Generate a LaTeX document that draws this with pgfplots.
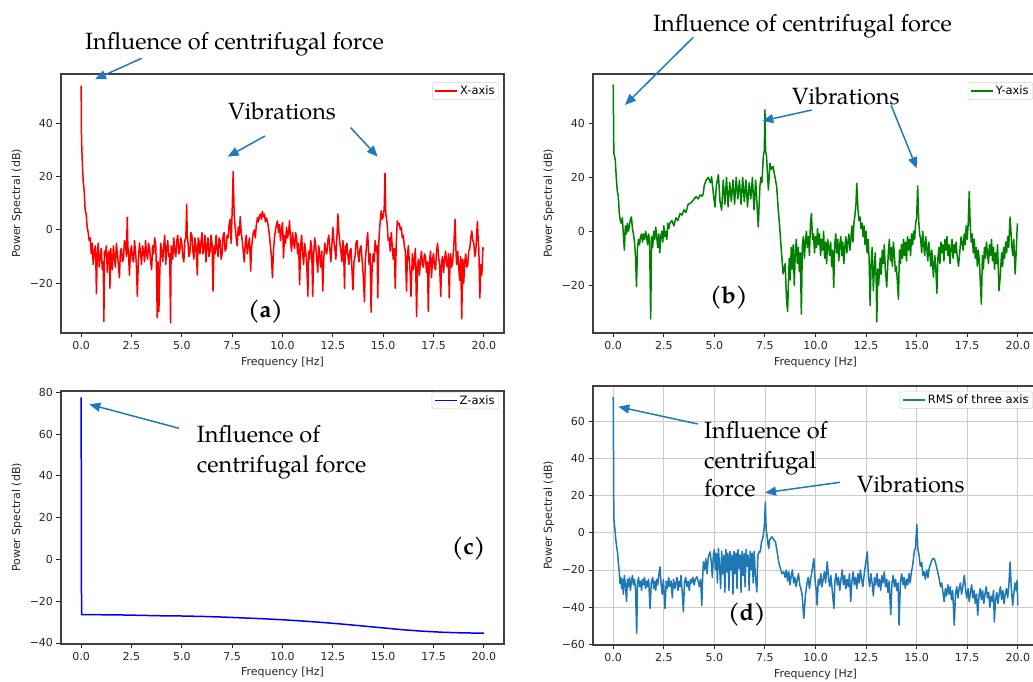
\documentclass[border=0pt]{standalone}
\usepackage{fontspec}
\setmainfont{DejaVu Sans}
\newfontfamily\pal{TeX Gyre Pagella}
\usepackage{pgfplots}
\pgfplotsset{compat=1.18}
\usepackage{pgfplotstable}
\usetikzlibrary{arrows.meta}

\definecolor{mplblue}{RGB}{31,119,180}
\definecolor{mplgreen}{RGB}{0,128,0}
\definecolor{arrowblue}{RGB}{30,122,190}

% ---- X-axis spectrum (a)
\pgfplotstableread{
x y
0.0 54.3
0.02 34
0.05 27
0.1 18.5
0.15 15
0.2 7.5
0.25 6
0.3 1
0.35 -1
0.4 -4
0.45 -3
0.5 -9
0.55 -5
0.6 -13
0.65 -8
0.7 -6
0.73 -12
0.76 -24
0.8 -9
0.85 -5
0.9 -14
0.95 -10
1.0 -7
1.05 -15
1.1 -12
1.13 -34.5
1.16 -8
1.2 -10
1.25 -6
1.3 -16
1.35 -9
1.4 -8
1.43 -22
1.47 -7
1.5 -11
1.55 -15
1.6 -6
1.65 -10
1.7 -14
1.75 -5
1.8 -9
1.85 -13
1.9 -18
1.95 -8
2.0 -7
2.05 -12
2.1 -11
2.15 -4
2.2 -5
2.25 -10
2.29 4.7
2.32 -6
2.35 -9
2.4 -17
2.45 -8
2.5 -6
2.55 -11
2.6 -12
2.65 -4
2.7 -8
2.75 -14
2.79 -25
2.85 -10
2.9 -5
2.95 -9
3.0 -13
3.05 -6
3.1 -8
3.15 -12
3.2 -4
3.25 -9
3.3 -11
3.35 -5
3.4 -7
3.45 -12
3.5 -15
3.55 -6
3.6 -9
3.65 -3
3.7 -5
3.74 -14
3.78 -33
3.82 -12
3.86 -30.7
3.9 -18
3.95 -5
4.0 -8
4.05 -12
4.1 -6
4.15 -2
4.2 -13
4.25 -7
4.3 -4
4.35 -10
4.4 -9
4.44 -35
4.47 -6
4.5 -7
4.55 -11
4.6 -3
4.65 -8
4.7 -10
4.75 -4
4.8 -2
4.85 -9
4.9 -8
4.95 -3
5.0 -5
5.05 -10
5.1 -12
5.15 -4
5.2 -3
5.24 9.7
5.27 -2
5.3 -4
5.35 -10
5.4 -9
5.45 -1
5.5 -2
5.55 -8
5.6 -11
5.65 -3
5.7 -6
5.73 -10
5.77 -17
5.81 -3
5.85 -4
5.9 -9
5.95 -5
6.0 -1
6.05 -9
6.1 -7
6.15 -2
6.2 -12
6.25 -6
6.3 -3
6.35 -10
6.4 -8
6.45 -2
6.5 -5
6.55 -23
6.6 -6
6.65 -9
6.7 -2
6.75 -7
6.8 -10
6.85 -3
6.9 -4
6.95 -11
7.0 -9
7.05 -2
7.1 -1
7.15 -8
7.2 -7
7.25 -2
7.3 -3
7.35 2
7.4 4
7.45 -5
7.5 7
7.55 22
7.6 6
7.65 1
7.7 -3
7.75 -6
7.8 1
7.85 -2
7.9 5
7.95 -1
8.0 -4
8.05 -8
8.1 -12
8.15 -5
8.2 -2
8.25 -9
8.3 -6
8.36 -3
8.42 -15.5
8.46 -7
8.5 -4
8.55 -1
8.6 0
8.65 -3
8.7 2
8.76 4.7
8.8 3
8.85 5
8.9 6
8.95 4
9.0 7
9.05 5
9.1 6
9.15 3
9.2 4.5
9.25 3.4
9.3 1
9.35 -2
9.4 -6
9.45 -10
9.5 -18
9.55 -8
9.6 -3
9.65 0
9.7 2
9.75 3.4
9.8 -1
9.85 2
9.9 -4
9.95 0
10.0 2.8
10.05 -10.5
10.1 -2
10.15 -5
10.2 1
10.25 -3
10.3 -1
10.35 3.4
10.4 -4
10.45 -8
10.5 -1
10.55 -5
10.6 -7
10.65 -1
10.7 -3
10.75 -9
10.8 -5
10.85 -20.6
10.9 -6
10.95 -2
11.0 -9
11.05 -13
11.1 -5
11.15 -8
11.2 -12
11.26 -25
11.3 -8
11.35 -11
11.4 -4
11.45 -7
11.5 -25
11.55 -9
11.6 -3
11.65 -6
11.7 -11
11.75 -16
11.8 -6
11.85 -10
11.9 -14
11.95 -8
12.0 -23
12.05 -11
12.1 -5
12.15 -8
12.2 -9
12.25 -4
12.3 -2
12.35 -7
12.4 -12
12.45 -6
12.5 1
12.55 -4
12.6 -7
12.65 -11
12.7 -3
12.75 6
12.8 -1
12.85 -5
12.9 -8
12.95 -12
13.0 -4
13.04 -9
13.08 -22
13.12 -6
13.15 -9
13.2 -5
13.25 -10
13.3 -13
13.35 -8
13.4 -7
13.45 -15
13.5 -22.5
13.55 -12
13.6 -10
13.65 -5
13.7 -4
13.75 -9
13.8 -12
13.85 -7
13.9 -6
13.95 -11
14.0 -16
14.07 -27
14.11 -12
14.15 -8
14.19 -4
14.23 -1
14.27 -8
14.3 -13
14.35 -9
14.4 -31
14.45 -14
14.5 -9
14.55 -12
14.6 -4
14.65 -8
14.7 -6
14.73 -25.6
14.77 -8
14.8 -2
14.85 3
14.9 7.2
14.95 4
15.0 5
15.05 8
15.09 21.3
15.13 6
15.17 4
15.2 2
15.25 -4
15.3 -3
15.35 -8
15.4 -1
15.45 -6
15.5 -11
15.55 -7
15.6 -22
15.65 -5
15.7 3.4
15.75 2
15.8 2.5
15.85 0
15.9 1
15.95 -3
16.0 -2
16.05 -6
16.1 -8
16.16 -23
16.2 -10
16.25 -6
16.3 -12
16.34 -16
16.38 -25
16.45 -9
16.5 -15
16.55 -11
16.6 -7
16.66 -32.6
16.7 -14
16.75 -11
16.8 -17
16.85 -12
16.9 -8
16.95 -13
17.0 -14
17.05 -9
17.1 -10
17.15 -16
17.2 -12
17.24 -30.7
17.28 -15
17.3 -12
17.35 -8
17.4 -18
17.45 -11
17.5 -9
17.55 -14
17.6 -15
17.65 -8
17.7 -5
17.75 -10
17.8 -13
17.86 -25
17.9 -12
17.95 -10
18.0 -16
18.05 -11
18.1 -8
18.15 -13
18.2 -14
18.24 -9
18.28 -25.6
18.32 -12
18.35 -9
18.4 -14
18.45 -12
18.5 -7
18.57 4
18.62 -9
18.65 -13
18.7 -8
18.75 -14
18.8 -19
18.85 -10
18.9 -33.5
18.95 -11
19.0 -20
19.05 -12
19.1 -9
19.15 -14
19.2 -13
19.25 -8
19.3 -7
19.35 -3
19.4 -0.4
19.45 -4
19.5 -5
19.55 -10
19.6 -8
19.64 -2
19.68 3.2
19.72 -4
19.75 -7
19.8 -25.6
19.85 -13
19.9 -17
19.95 -6.7
20.0 -7.3
}\xdata

% ---- Y-axis spectrum (b)
\pgfplotstableread{
x y
0.0 54.4
0.03 29
0.1 26.5
0.15 20
0.2 15
0.25 13
0.3 6.6
0.35 4
0.4 2.9
0.45 5
0.5 -1
0.55 -7
0.6 2
0.65 -1
0.7 3
0.75 0
0.8 2
0.85 4.5
0.9 5.3
0.95 1
1.0 -1
1.05 -4
1.1 -9
1.15 -20.5
1.2 -6
1.25 -3
1.3 -5
1.35 -2
1.4 -1
1.45 -4
1.5 -1
1.55 -3
1.6 0
1.65 -2
1.7 -5
1.75 -1
1.8 -4
1.85 -32.5
1.9 -2
1.95 -6
2.0 0
2.05 -3
2.1 1.5
2.15 -2
2.2 -6
2.25 -1
2.3 -8
2.35 -2
2.4 0
2.45 -4
2.5 2
2.55 -2
2.6 0
2.65 -3
2.7 3
2.75 1
2.8 3
2.9 4
3.0 2
3.1 5
3.2 4
3.3 6.6
3.4 6
3.5 8
3.6 7
3.7 10
3.8 10.3
3.9 11
4.0 12
4.1 12.8
4.2 12
4.3 13.5
4.4 13
4.45 14
4.5 17
4.6 19
4.7 20
4.8 18
4.86 20.2
4.95 14
5.03 9
5.1 17
5.2 21
5.28 11
5.36 7.8
5.44 19
5.52 10
5.6 20
5.68 9
5.76 18
5.84 11
5.92 19
6.0 10
6.08 20
6.16 12
6.24 19
6.32 10
6.4 20
6.48 11
6.56 19
6.64 9
6.72 18
6.8 12
6.88 20
6.96 8
7.04 19
7.1 11
7.17 1.6
7.25 16.5
7.3 20
7.35 18
7.42 27.7
7.47 30
7.5 45
7.53 30
7.58 27.7
7.62 22
7.67 15.3
7.75 25.2
7.82 23
7.9 24
8.0 20
8.08 16.5
8.16 8
8.24 0.4
8.32 -8
8.4 -15.8
8.5 -12
8.57 -25.7
8.62 -29.7
8.7 -10
8.75 -18
8.8 -6
8.85 -14
8.9 -5
8.95 -20
9.0 -8
9.05 -3
9.1 -12
9.15 -6
9.2 -15
9.25 -8
9.3 -30.7
9.35 -5
9.4 -2
9.45 -10
9.5 -4
9.55 0
9.6 -6
9.65 -2
9.7 -9
9.75 3
9.8 6.6
9.85 -3
9.9 -1
9.95 -8
10.0 -2
10.05 -6
10.1 1
10.15 -5
10.2 -1
10.25 -9
10.3 -3
10.35 -7
10.4 0
10.45 -10
10.5 -4
10.55 -12
10.6 -3
10.65 -6
10.7 -9
10.75 -4
10.8 -13
10.85 -7
10.9 -20.9
10.95 -5
11.0 -1
11.05 -8
11.1 -3
11.15 -11
11.2 -5
11.25 -2
11.3 -9
11.35 -4
11.4 -12
11.45 -6
11.5 -2
11.55 -8
11.6 -4
11.65 -1
11.7 -7
11.75 -3
11.8 2
11.85 -4
11.9 3
11.95 6
12.0 10
12.04 17.8
12.1 8
12.15 4
12.2 5.3
12.25 1
12.3 3
12.35 -2
12.4 2
12.45 -5
12.5 0
12.55 -8
12.6 -3
12.65 -10
12.7 -27.5
12.75 -12
12.8 -6
12.86 -22
12.9 -15
12.95 -8
13.0 -18
13.03 -33.6
13.08 -14
13.12 -20
13.2 -10
13.25 -16
13.3 -7
13.35 -12
13.4 -5
13.45 -14
13.52 -20.7
13.6 -8
13.65 -3
13.7 -11
13.75 -6
13.8 -13
13.85 -4
13.9 -9
13.95 -15
14.0 -13
14.1 -25.2
14.15 -7
14.2 -12
14.25 -5
14.3 -10
14.35 -3
14.4 -9
14.45 -4
14.5 -11
14.55 -2
14.6 -7
14.65 -3
14.7 -9
14.75 -1
14.8 -5
14.85 0
14.9 -3
14.95 3
15.0 5
15.05 16.8
15.1 4
15.15 -1
15.2 -3
15.25 -8
15.3 0
15.35 -5
15.4 -9
15.45 -2
15.5 -6
15.55 -11
15.6 -4
15.65 -8
15.7 -13
15.75 -7
15.83 -17
15.9 -9
15.95 -14
16.0 -23
16.05 -10
16.1 -6
16.15 -12
16.2 -4
16.25 -8
16.3 -5
16.35 -11
16.4 -3
16.45 -7
16.5 -2
16.55 -9
16.6 -5
16.65 -12
16.7 -6
16.75 -3
16.8 -10
16.85 -5
16.9 -8
16.95 -4
17.0 -9
17.07 -13
17.15 -6
17.2 -2
17.3 -7
17.35 -1
17.4 -5
17.45 2
17.5 -3
17.55 3
17.6 14.7
17.65 2
17.7 -4
17.75 -1
17.8 -8
17.85 -3
17.9 -10
17.95 -6
18.0 -13
18.05 -7
18.1 -11
18.14 -17.6
18.2 -27
18.25 -9
18.3 -14
18.35 -6
18.4 -10
18.45 -4
18.5 -8
18.55 -12
18.6 -5
18.65 -9
18.7 -3
18.75 -11
18.8 -6
18.85 -14
18.9 -8
18.95 -12
19.0 -5
19.07 -22
19.13 -17
19.2 -8
19.25 -13
19.3 -6
19.35 -10
19.4 -4
19.45 -8
19.5 -2
19.55 -6
19.62 5.3
19.7 -5
19.75 -9
19.8 -3
19.87 -15.8
19.93 -6
19.98 2.9
}\ydata

% ---- Z-axis spectrum (c)
\pgfplotstableread{
x y
0.0 77.5
0.02 -26.5
1 -26.5
2 -26.6
3 -26.8
4 -27.0
5 -27.1
6 -27.3
7 -27.6
8 -28.0
9 -28.4
10 -28.9
11 -29.5
12 -30.2
13 -31.0
14 -31.9
15 -32.8
16 -33.7
17 -34.4
18 -34.9
19 -35.2
20 -35.3
}\zdata

% ---- RMS of three axis (d)
\pgfplotstableread{
x y
0.0 72.9
0.03 7.6
0.08 2.2
0.13 -4
0.17 -7.6
0.21 -10.3
0.26 -17
0.3 -21
0.33 -27.3
0.38 -24
0.42 -30
0.46 -25
0.5 -33
0.55 -23
0.6 -28
0.66 -37
0.7 -25
0.75 -29
0.8 -24
0.85 -31
0.9 -26
0.95 -23
1.0 -28
1.05 -25
1.1 -30
1.16 -54
1.2 -27
1.25 -24
1.3 -29
1.35 -26
1.4 -31
1.45 -25
1.5 -28
1.55 -24
1.6 -30
1.65 -26
1.7 -29
1.75 -25
1.82 -40.7
1.88 -27
1.95 -24
2.0 -30
2.05 -26
2.1 -31
2.15 -25
2.2 -28
2.25 -23
2.31 -18.3
2.36 -27
2.42 -33
2.48 -25
2.56 -40.7
2.62 -26
2.68 -30
2.74 -24
2.8 -29
2.86 -26
2.92 -35
2.98 -25
3.05 -30
3.1 -27
3.15 -24
3.2 -31
3.25 -26
3.3 -29
3.35 -23
3.41 -32
3.47 -42.5
3.52 -27
3.58 -24
3.64 -29
3.7 -26
3.76 -31
3.82 -25
3.88 -27
3.94 -24
4.0 -28
4.06 -25
4.13 -23.7
4.2 -26
4.26 -29
4.32 -25
4.38 -39
4.42 -24
4.46 -15.7
4.52 -20
4.58 -14
4.64 -22
4.7 -13
4.79 -10.3
4.85 -16
4.9 -24
4.95 -12
5.0 -9
5.05 -20
5.1 -11
5.15 -27
5.2 -8.5
5.26 -18
5.31 -30
5.36 -10
5.42 -22
5.47 -12
5.52 -32
5.57 -9
5.62 -21
5.67 -11
5.72 -31
5.77 -10
5.82 -20
5.87 -12
5.92 -33
5.97 -10
6.02 -22
6.07 -11
6.12 -30
6.17 -9
6.22 -19
6.27 -12
6.32 -32
6.37 -10
6.42 -23
6.47 -11
6.52 -29
6.57 -9
6.62 -18
6.67 -12
6.72 -31
6.77 -10
6.82 -20
6.87 -11
6.92 -27
6.97 -10
7.02 -22
7.1 -31.8
7.15 -12
7.22 -10
7.27 -10.3
7.33 -5
7.39 -3
7.44 0.4
7.48 5
7.52 16.5
7.56 2
7.6 -1.3
7.65 -6
7.69 -8.5
7.73 -4
7.77 -3.1
7.85 -2.2
7.92 -3.5
8.02 -4.9
8.1 -10
8.18 -15.7
8.26 -19
8.34 -22
8.43 -21
8.5 -24
8.56 -20
8.62 -26
8.68 -21
8.74 -28
8.8 -23
8.86 -20
8.92 -27
8.98 -24
9.04 -29
9.1 -25
9.16 -22
9.22 -28
9.28 -30
9.34 -33.5
9.42 -46
9.5 -34
9.58 -27
9.64 -24
9.7 -30
9.76 -25
9.82 -21
9.92 -13.9
9.98 -26
10.03 -30
10.08 -39
10.14 -25
10.2 -28
10.26 -22
10.32 -29
10.38 -25
10.44 -21
10.5 -27
10.58 -15.7
10.64 -24
10.7 -29
10.76 -23
10.82 -30
10.91 -40.7
10.96 -26
11.02 -22
11.08 -28
11.14 -24
11.2 -31
11.26 -25
11.32 -20
11.38 -28
11.44 -23
11.5 -30
11.56 -25
11.62 -29
11.68 -22
11.74 -37
11.8 -26
11.86 -21
11.92 -28
11.98 -24
12.04 -30
12.1 -22
12.16 -27
12.22 -20
12.28 -25
12.34 -29
12.4 -23
12.46 -18
12.56 -10.3
12.62 -24
12.68 -29
12.74 -22
12.8 -27
12.86 -34
12.92 -24
12.98 -28
13.04 -22
13.1 -29
13.16 -25
13.22 -31
13.28 -23
13.34 -27
13.4 -21
13.46 -29
13.52 -25
13.58 -32
13.64 -26
13.72 -44
13.78 -27
13.84 -23
13.9 -29
13.96 -25
14.02 -31
14.08 -27
14.13 -49.6
14.2 -26
14.26 -22
14.32 -28
14.38 -24
14.44 -30
14.5 -25
14.56 -28
14.62 -22
14.68 -27
14.74 -21
14.8 -18
14.88 -10.3
14.94 -8
15.01 4.4
15.06 -9
15.12 -12
15.18 -18
15.25 -16
15.31 -23
15.37 -21
15.43 -25
15.5 -20
15.56 -24
15.62 -19
15.68 -17
15.74 -15
15.8 -14
15.87 -13.9
15.93 -16
16.0 -19
16.06 -22
16.12 -25
16.18 -29
16.24 -27
16.3 -32
16.36 -37
16.42 -30
16.48 -34
16.54 -28
16.6 -33
16.66 -29
16.72 -36
16.78 -31
16.86 -49.6
16.92 -33
16.98 -29
17.04 -35
17.1 -30
17.16 -27
17.22 -33
17.28 -29
17.36 -22.8
17.42 -31
17.48 -35
17.54 -30
17.6 -37
17.66 -32
17.72 -28
17.78 -35
17.84 -31
17.9 -38
17.96 -33
18.02 -44.3
18.08 -34
18.14 -30
18.2 -36
18.26 -31
18.32 -38
18.38 -33
18.44 -29
18.5 -35
18.56 -32
18.62 -40
18.68 -34
18.74 -37
18.8 -31
18.84 -47.9
18.9 -36
18.96 -32
19.02 -38
19.08 -33
19.14 -29
19.2 -36
19.26 -31
19.32 -38
19.38 -33
19.44 -30
19.5 -35
19.56 -28
19.62 -15.7
19.68 -30
19.75 -39
19.8 -33
19.86 -27
19.92 -31
19.97 -25.5
20.0 -39
}\rmsdata

\pgfplotsset{
  psd/.style={
    scale only axis,
    xmin=-1, xmax=21,
    xtick={0,2.5,5,7.5,10,12.5,15,17.5,20},
    xticklabels={0.0,2.5,5.0,7.5,10.0,12.5,15.0,17.5,20.0},
    tick pos=left,
    tick align=outside,
    major tick length=4.5pt,
    tick style={black!85, line width=0.9pt},
    axis line style={black!75, line width=1.1pt},
    tick label style={font=\fontsize{11}{13}\selectfont, text=black!85},
    label style={font=\fontsize{11}{13}\selectfont, text=black!85},
    xlabel={Frequency [Hz]},
    ylabel={Power Spectral (dB)},
    xlabel style={at={(axis description cs:0.5,-0.113)}, anchor=center},
    ylabel style={at={(axis description cs:-0.099,0.5)}, anchor=center},
    legend cell align=left,
    legend image code/.code={\draw[#1, line width=1.6pt] (0pt,0pt) -- (22pt,0pt);},
    legend style={at={(axis description cs:1,1)}, anchor=north east,
      xshift=-5pt, yshift=-8.5pt, draw=black!20, rounded corners=2pt,
      fill=white, font=\fontsize{11.5}{13}\selectfont,
      inner xsep=2pt, inner ysep=1pt, nodes={inner sep=2.2pt}},
  },
  every axis plot/.append style={line width=1.5pt, line join=round},
}

\tikzset{
  note/.style={font=\pal\fontsize{23.5}{28}\selectfont, inner sep=0pt, anchor=base west},
  tag/.style={font=\pal\bfseries\fontsize{23.5}{28}\selectfont, inner sep=0pt, anchor=base west},
  callout/.style={arrowblue, line width=1.5pt, -{Triangle[length=11pt,width=9pt]}},
}

\begin{document}
\begin{tikzpicture}[x=1pt, y=1pt]
\path[use as bounding box] (0,0) rectangle (1033,682);

% (a)
\begin{axis}[psd, at={(61pt,349pt)}, width=443pt, height=259pt,
  ymin=-38.8, ymax=58.7, ytick={-20,0,20,40}, yticklabels={−20,0,20,40}]
\addplot[red] table {\xdata};
\addlegendentry{X-axis}
\end{axis}

% (b)
\begin{axis}[psd, at={(593pt,349pt)}, width=445pt, height=259pt,
  ymin=-37.7, ymax=58.3, ytick={-20,0,20,40}, yticklabels={−20,0,20,40}]
\addplot[mplgreen] table {\ydata};
\addlegendentry{Y-axis}
\end{axis}

% (c)
\begin{axis}[psd, at={(61pt,38pt)}, width=443pt, height=253pt,
  ymin=-40.5, ymax=80.6, ytick={-40,-20,0,20,40,60,80},
  yticklabels={−40,−20,0,20,40,60,80},
  legend style={yshift=7.5pt}]
\addplot[blue] table {\zdata};
\addlegendentry{Z-axis}
\end{axis}

% (d)
\begin{axis}[psd, at={(593pt,37pt)}, width=445pt, height=259pt,
  ymin=-60.3, ymax=78.8, ytick={-60,-40,-20,0,20,40,60},
  yticklabels={−60,−40,−20,0,20,40,60},
  grid=major, grid style={black!20, line width=0.8pt},
  legend style={yshift=3pt}]
\addplot[mplblue] table {\rmsdata};
\addlegendentry{RMS of three axis}
\end{axis}

% annotations
\node[note] at (85,632) {Influence of centrifugal force};
\draw[callout] (141.7,623.7) -- (95,602.7);
\node[note] at (653,650.3) {Influence of centrifugal force};
\draw[callout] (693.3,644.7) -- (625,577);

\node[note] at (228,562) {Vibrations};
\draw[callout] (265,546) -- (227.7,525.3);
\draw[callout] (350.7,554.3) -- (377.7,525.3);

\node[note] at (791.7,577) {Vibrations};
\draw[callout] (811.7,572) -- (762.3,561);
\draw[callout] (891,577) -- (916.7,513.7);

\node[note] at (196.7,239.3) {Influence of};
\node[note] at (196.7,209.7) {centrifugal force};
\draw[callout] (179,253.7) -- (89.3,277.7);

\node[note] at (704,243) {Influence of};
\node[note] at (704,213.7) {centrifugal};
\node[note] at (704,185.3) {force};
\draw[callout] (697.7,258) -- (618.3,275.3);
\node[note] at (856.7,189.7) {Vibrations};
\draw[callout] (840,199.7) -- (765,189.3);

\node[tag] at (248,364) {(a)};
\node[tag] at (710,378.5) {(b)};
\node[tag] at (451.7,127) {(c)};
\node[tag] at (728,61) {(d)};
\end{tikzpicture}
\end{document}
